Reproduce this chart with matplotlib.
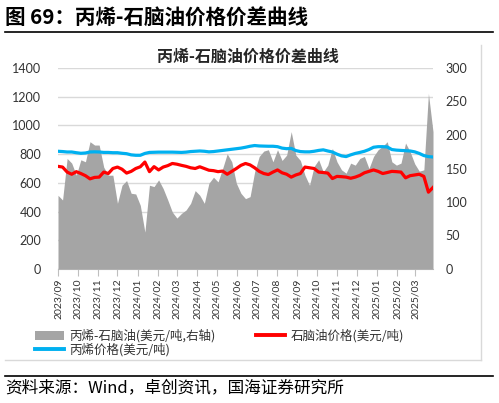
import matplotlib
matplotlib.use('Agg')
import matplotlib.pyplot as plt
import matplotlib.dates as mdates
import pandas as pd
from matplotlib.patches import Patch
from matplotlib.lines import Line2D

CJK = ['Noto Sans CJK SC', 'DejaVu Sans']
plt.rcParams['font.family'] = CJK

# ---------------- data (weekly readings, from 2023-09-01) ----------------
start_date = '2023-09-01'
spread = [110, 103, 165, 158, 140, 163, 160, 190, 185, 185,
          152, 140, 140, 98, 125, 132, 113, 112, 95, 55,
          125, 123, 133, 120, 103, 85, 76, 83, 88, 98,
          117, 110, 98, 128, 137, 130, 150, 172, 160, 128,
          113, 105, 108, 145, 168, 176, 178, 160, 178, 162,
          170, 205, 170, 162, 140, 125, 153, 163, 145, 155,
          180, 160, 148, 143, 158, 155, 165, 168, 150, 168,
          178, 183, 190, 160, 155, 158, 188, 175, 157, 146,
          148, 262, 205]
naphtha = [715, 710, 675, 660, 678, 665, 650, 628, 638, 640,
           675, 665, 700, 710, 695, 668, 680, 700, 712, 745,
           678, 713, 690, 710, 720, 735, 730, 722, 715, 705,
           700, 712, 700, 688, 685, 678, 682, 660, 680, 700,
           722, 735, 725, 705, 680, 665, 658, 675, 690, 670,
           660, 640, 655, 665, 710, 705, 700, 675, 672, 668,
           630, 645, 643, 640, 632, 640, 652, 670, 680, 690,
           680, 665, 672, 680, 678, 675, 635, 650, 655, 660,
           645, 535, 568]
propylene = [820, 818, 815, 815, 810, 806, 808, 815, 816, 815,
             812, 812, 810, 810, 806, 803, 795, 792, 792, 805,
             812, 813, 814, 814, 814, 814, 813, 812, 814, 818,
             820, 822, 820, 816, 818, 822, 826, 830, 834, 838,
             842, 848, 855, 860, 857, 856, 855, 855, 852, 842,
             838, 840, 825, 818, 816, 816, 820, 826, 830, 822,
             815, 800, 788, 783, 795, 805, 812, 820, 832, 848,
             852, 852, 850, 832, 828, 826, 824, 822, 816, 805,
             790, 783, 780]
left_ticks = [0, 200, 400, 600, 800, 1000, 1200, 1400]
right_ticks = [0, 50, 100, 150, 200, 250, 300]
labels = ['丙烯-石脑油(美元/吨,右轴)', '石脑油价格(美元/吨)', '丙烯价格(美元/吨)']

dates = pd.date_range(start_date, periods=len(spread), freq='7D')

# ---------------- figure ----------------
W, H = 499, 403
fig = plt.figure(figsize=(W / 100, H / 100), dpi=100)


def fy(py):
    return 1 - py / H


ax = fig.add_axes([58 / W, fy(269), (433 - 58) / W, (269 - 68) / H])
ax.set_ylim(0, 1400)
ax.set_yticks(left_ticks)
ax.grid(axis='y', color='#D9D9D9', lw=1)
ax.set_axisbelow(True)
for s in ['left', 'right', 'top']:
    ax.spines[s].set_visible(False)
ax.spines['bottom'].set_color('#BFBFBF')
ax.tick_params(axis='y', length=0, pad=12, labelsize=9, labelcolor='#333333',
               labelfontfamily='Lato')
ax.tick_params(axis='x', length=5, color='#BFBFBF', pad=2, labelsize=7.5,
               labelcolor='#333333', labelrotation=90, labelfontfamily='Lato')

ax2 = ax.twinx()
ax2.fill_between(dates, spread, 0, color='#A5A5A5', lw=0)
ax2.set_ylim(0, 300)
ax2.set_yticks(right_ticks)
ax2.tick_params(axis='y', length=0, pad=9, labelsize=9, labelcolor='#333333',
                labelfontfamily='Lato')
for s in ax2.spines.values():
    s.set_visible(False)

ax3 = ax.twinx()
ax3.set_ylim(0, 1400)
ax3.plot(dates, naphtha, color='#FF0000', lw=2.3, solid_joinstyle='round')
ax3.plot(dates, propylene, color='#00B0F0', lw=2.3, solid_joinstyle='round')
ax3.set_yticks([])
for s in ax3.spines.values():
    s.set_visible(False)

ax.set_xlim(dates[0], dates[-1])
ax.xaxis.set_major_locator(mdates.MonthLocator())
ax.xaxis.set_major_formatter(mdates.DateFormatter('%Y/%m'))

# ---------------- texts ----------------
fig.text(5 / W, fy(18), '图 69：丙烯-石脑油价格价差曲线', fontsize=14.8,
         fontweight='bold', ha='left', va='center', color='black')
fig.add_artist(Line2D([5 / W, 493 / W], [fy(31.5)] * 2, color='black', lw=1.2))
fig.text(248 / W, fy(56.5), '丙烯-石脑油价格价差曲线', fontsize=11.5,
         fontweight='bold', ha='center', va='center', color='#262626')

# chart frame (right and bottom)
fig.add_artist(Line2D([481 / W, 481 / W], [fy(45), fy(360)], color='#D9D9D9', lw=1))
fig.add_artist(Line2D([5 / W, 481 / W], [fy(360), fy(360)], color='#D9D9D9', lw=1))

# legends (one entry each, placed like the reference)
h_gray = Patch(facecolor='#A5A5A5', edgecolor='none')
h_red = Line2D([], [], color='#FF0000', lw=2.8)
h_blue = Line2D([], [], color='#00B0F0', lw=2.8)
leg_kw = dict(frameon=False, fontsize=9, handlelength=2.3, handleheight=0.65,
              handletextpad=0.45, borderaxespad=0, borderpad=0,
              labelcolor='#333333', loc='center left')
fig.legend([h_gray], [labels[0]], bbox_to_anchor=(35 / W, fy(336)), **leg_kw)
fig.legend([h_red], [labels[1]], bbox_to_anchor=(256 / W, fy(336)), **leg_kw)
fig.legend([h_blue], [labels[2]], bbox_to_anchor=(35 / W, fy(350)), **leg_kw)

fig.add_artist(Line2D([5 / W, 493 / W], [fy(375.5)] * 2, color='black', lw=1.2))
fig.text(5 / W, fy(388), '资料来源：Wind，卓创资讯，国海证券研究所', fontsize=12,
         ha='left', va='center', color='black')

fig.savefig('out.png', dpi=100)
